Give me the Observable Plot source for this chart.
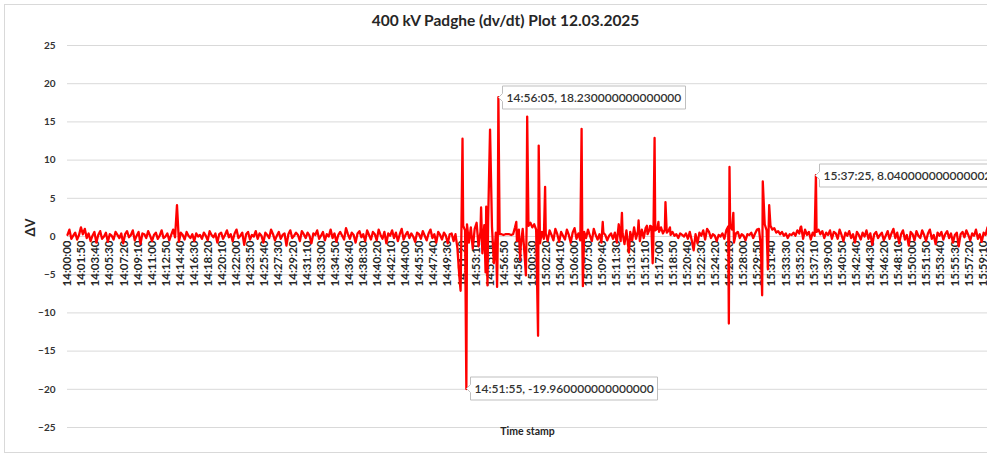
<!DOCTYPE html>
<html>
<head>
<meta charset="utf-8">
<script src="https://cdn.jsdelivr.net/npm/d3@7"></script>
<script src="https://cdn.jsdelivr.net/npm/@observablehq/plot@0.6"></script>
<style>
  html, body { margin: 0; padding: 0; background: #ffffff; }
  #chart { width: 987px; height: 455px; overflow: hidden; }
</style>
</head>
<body>
<div id="chart"></div>
<script>
// ---------- data ----------
const chartTitle = "400 kV Padghe (dv/dt) Plot 12.03.2025";
const yAxisLabel = "ΔV";
const xAxisLabel = "Time stamp";
const yTicks = [-25, -20, -15, -10, -5, 0, 5, 10, 15, 20, 25];
const xTickLabels = [
  "14:00:00","14:01:50","14:03:40","14:05:30","14:07:20","14:09:10","14:11:00","14:12:50","14:14:40","14:16:30",
  "14:18:20","14:20:10","14:22:00","14:23:50","14:25:40","14:27:30","14:29:20","14:31:10","14:33:00","14:34:50",
  "14:36:40","14:38:30","14:40:20","14:42:10","14:44:00","14:45:50","14:47:40","14:49:30","14:51:20","14:53:10",
  "14:55:00","14:56:50","14:58:40","15:00:30","15:02:20","15:04:10","15:06:00","15:07:50","15:09:40","15:11:30",
  "15:13:20","15:15:10","15:17:00","15:18:50","15:20:40","15:22:30","15:24:20","15:26:10","15:28:00","15:29:50",
  "15:31:40","15:33:30","15:35:20","15:37:10","15:39:00","15:40:50","15:42:40","15:44:30","15:46:20","15:48:10",
  "15:50:00","15:51:50","15:53:40","15:55:30","15:57:20","15:59:10"
];
const xDomainEnd = "15:59:45";

// background readings every 15 s starting at 14:00:00 (10 minutes per row)
const baseStart = "14:00:00";
const baseStepSeconds = 15;
const baseValues = [
  0.2, 0.9, -0.3, 0.1, 0.5, -0.4, 0.2, 1.2, 0.3, 1.0, -0.2, 0.4, -0.6, 0.1, 0.6, -0.8, 0.2, 0.7, -0.3, 0.0, 0.5, -0.7, 0.3, 0.1, -0.4, 0.6, 0.2, -0.2, 0.4, -0.9, 0.3, 0.7, -0.1, 0.2, 0.8, -0.5, 0.1, 0.6, -1.0, 0.4,
  0.3, -0.2, 0.7, 0.1, -0.6, 0.2, 0.5, -0.3, 0.1, 0.8, -0.2, 0.0, 0.4, -0.5, 0.2, 0.9, -0.1, 0.3, -0.7, 0.5, 0.2, -0.4, 0.6, 0.1, -0.2, 0.3, -0.6, 0.4, 0.0, 0.2, -0.3, 0.5, 0.1, -0.5, 0.7, 0.2, -0.1, 0.4, -0.8, 0.3,
  0.5, -0.3, 0.2, 0.8, -0.1, 0.3, -0.6, 0.4, 0.9, -0.2, 0.1, 0.5, -1.1, 0.3, 0.6, -0.4, 0.2, 0.0, 0.7, -0.3, 0.4, 0.1, -0.8, 0.5, 0.2, -0.2, 0.9, 0.3, -0.5, 0.1, 0.6, -0.3, 0.2, 0.4, -1.2, 0.3, 0.8, -0.2, 0.1, 0.5,
  0.2, -0.6, 0.7, 0.3, -0.2, 0.5, 0.1, -0.9, 0.4, 0.2, 0.8, -0.3, 0.1, 0.6, -0.5, 0.3, 0.0, 0.9, -0.2, 0.4, -0.7, 0.2, 0.6, 0.1, -0.4, 1.1, 0.3, -0.3, 0.5, 0.2, -0.8, 0.4, 0.7, -0.1, 0.3, -0.6, 0.8, 0.2, -0.4, 0.6,
  0.3, -0.5, 0.9, 0.2, -0.3, 0.6, -0.9, 0.4, 0.1, 0.8, -0.2, 0.5, -0.6, 0.3, 1.0, -0.4, 0.2, 0.6, -0.2, 0.4, 0.0, -0.7, 0.5, 0.3, -0.3, 0.7, 0.1, -0.5, 0.4, 0.9, -0.2, 0.3, -0.8, 0.6, 0.2, -0.4, 0.5, 0.1, -0.9, 0.3,
  0.4, -0.6, 0.3, -1.5, -5.2, -1.0, 1.4, 0.8, 1.6, -0.8, 1.2, -1.6, 1.0, 1.8, -1.3, 0.6, -2.2, 1.5, -1.0, 2.0, -1.8, 1.3, -3.5, 0.5, -0.8, 0.3, 0.3, 0.2, 0.3, 0.3, 0.3, 0.2, 0.3, 1.2, -0.6, 0.9, -1.2, 1.0, -2.5, 0.8,
  1.4, 1.8, 1.2, 1.6, 0.9, -1.0, -0.9, 0.6, -0.3, 0.4, -0.6, 0.8, 0.2, -0.5, 1.0, 0.3, -0.7, 0.6, 0.1, -0.4, 0.9, 0.2, -0.8, 0.5, 1.1, -0.3, 0.4, -0.5, 0.3, 0.6, -0.2, 0.9, 0.1, -0.6, 1.0, 0.2, -0.4, 0.3, -0.8, 0.5,
  0.2, -0.5, 0.1, 0.4, -0.3, 0.5, -0.8, 0.3, -0.6, 0.4, -1.0, 0.8, -1.4, 0.6, -0.5, 1.2, -0.3, 0.7, -0.6, 0.9, -0.2, 1.1, 0.3, 0.9, 1.3, -1.2, 0.8, 1.0, 0.6, 1.2, 0.4, 0.9, 0.5, 0.8, 0.2, 0.6, 0.1, 0.3, -0.2, 0.4,
  0.2, 0.0, 0.4, -0.3, 0.6, -0.5, -1.8, 0.3, -0.9, 0.5, 0.1, 0.8, -0.4, 1.0, 0.6, -0.2, 0.3, 0.1, -0.6, 0.2, 0.0, 0.4, -0.3, 0.8, 1.3, 1.5, 0.9, -0.8, 0.4, 0.6, -0.2, 0.3, 0.1, -0.5, 0.3, 0.2, 0.5, -0.2, 0.4, 0.9,
  1.0, -1.2, 0.9, 1.6, 0.8, 0.5, 1.4, 0.9, 1.1, 0.5, 0.7, 0.3, 0.6, 0.1, 0.4, -0.2, 0.3, 0.2, 0.5, 0.1, 0.8, 0.4, 1.3, -0.3, 0.9, 0.2, 0.6, -0.4, 0.5, 0.1, 0.6, 0.9, 0.3, 0.7, -0.2, 0.5, 0.2, 0.8, -0.3, 0.6,
  0.4, -0.3, 0.9, 0.2, -0.6, 0.5, 0.1, 0.7, -0.2, 0.3, -0.8, 0.6, 0.2, -0.4, 0.5, 0.0, 0.8, -0.3, 0.4, -1.1, 0.3, 0.6, -0.2, 0.2, 0.5, -0.5, 0.1, 0.7, -0.3, 0.4, 1.0, -0.2, 0.5, -0.9, 0.3, 0.8, -0.4, 0.2, -1.2, 0.6,
  0.3, -0.5, 0.7, 0.1, -0.2, 0.8, 0.2, -0.6, 0.4, 0.9, -0.3, 0.2, -1.0, 0.5, 0.1, 0.6, -0.4, 0.3, 0.7, -0.2, 0.4, -0.8, 0.2, 0.5, -1.3, 0.3, 0.6, -0.1, 0.8, 0.2, -0.5, 0.4, 0.1, 0.9, -0.3, 0.3, -0.7, 0.5, 0.2, 1.2
];

// sharp excursions (5 s resolution)
const eventTimes = [
  "14:14:15","14:51:10","14:51:25","14:51:55","14:53:50","14:54:25","14:54:30","14:54:40","14:55:00","14:55:55",
  "14:56:05","14:58:25","14:58:55","14:59:40","14:59:50","15:01:15","15:01:20","15:02:10","15:06:55","15:07:05",
  "15:09:40","15:11:45","15:12:10","15:13:05","15:14:20","15:15:25","15:15:50","15:16:10","15:16:25","15:16:55",
  "15:17:50","15:18:25","15:26:05","15:26:10","15:26:40","15:30:25","15:30:30","15:31:10","15:31:20","15:35:25",
  "15:37:25"
];
const eventValues = [
  4.1, -7.1, 12.8, -19.96, 3.8, -4.7, 3.9, -6.4, 14.0, -6.6,
  18.23, 1.9, -3.1, -5.1, 15.7, -13.0, 11.9, 6.5, 14.1, -6.5,
  1.9, 1.6, 3.1, -2.1, 2.1, 1.4, 1.4, -3.5, 12.9, 1.9,
  4.5, 1.2, -11.4, 9.1, 3.1, -7.7, 7.2, -4.3, 4.1, 1.2,
  8.04
];

// data callouts
const calloutTimes = ["14:56:05", "14:51:55", "15:37:25"];
const calloutValues = [18.23, -19.96, 8.04];
const calloutTexts = ["14:56:05, 18.230000000000000", "14:51:55, -19.960000000000000", "15:37:25, 8.040000000000002"];

// ---------- build ----------
function toSeconds(hms) { const [h, m, s] = hms.split(":").map(Number); return h * 3600 + m * 60 + s; }
function toDate(hms) { return new Date(Date.UTC(2025, 2, 12, 0, 0, 0) + toSeconds(hms) * 1000); }
function secToDate(sec) { return new Date(Date.UTC(2025, 2, 12, 0, 0, 0) + sec * 1000); }

const readings = new Map();
const startSec = toSeconds(baseStart);
baseValues.forEach((v, i) => readings.set(startSec + i * baseStepSeconds, v));
eventTimes.forEach((t, i) => readings.set(toSeconds(t), eventValues[i]));
const series = Array.from(readings, ([sec, v]) => ({t: secToDate(sec), v})).sort((a, b) => a.t - b.t);

const callouts = calloutTimes.map((t, i) => ({t: toDate(t), v: calloutValues[i], label: calloutTexts[i]}));
const xTicks = xTickLabels.map(s => ({t: toDate(s), label: s}));

const FONT = "Lato, 'Open Sans', 'Liberation Sans', sans-serif";
const TEXT = "#333333";

const calloutMark = (typeof Plot.tip === "function")
  ? Plot.tip(callouts, {
      x: "t", y: "v", title: "label", anchor: "left", pointerSize: 8, textPadding: 4,
      fontSize: 12, fontFamily: FONT, fontWeight: 600, fill: "white", stroke: "#bfbfbf",
      strokeWidth: 1, pathFilter: "none"
    })
  : Plot.text(callouts, {
      x: "t", y: "v", text: "label", textAnchor: "start", dx: 11, fontSize: 12, fill: TEXT
    });

const chart = Plot.plot({
  width: 987,
  height: 455,
  marginTop: 45,
  marginBottom: 28,
  marginLeft: 67,
  marginRight: 0,
  style: {fontFamily: FONT, fontSize: "10px", fontWeight: "bold", color: TEXT, background: "white", overflow: "hidden"},
  x: {type: "utc", domain: [toDate("14:00:00"), toDate(xDomainEnd)], axis: null},
  y: {domain: [-25, 25], ticks: yTicks, tickSize: 0, tickPadding: 12, label: null},
  marks: [
    Plot.frame({stroke: "#d9d9d9", insetLeft: -63, insetTop: -41, insetBottom: -25, insetRight: -12}),
    Plot.ruleY(yTicks, {stroke: "#d9d9d9", strokeWidth: 1}),
    Plot.text(xTicks, {
      x: "t", y: () => 0, text: "label", rotate: -90, textAnchor: "end", lineAnchor: "middle",
      dy: 4, fontSize: 11.5, fontWeight: "bold", fill: "#262626"
    }),
    Plot.line(series, {x: "t", y: "v", stroke: "#ff0000", strokeWidth: 2.3}),
    calloutMark,
    Plot.text([yAxisLabel], {frameAnchor: "left", dx: -37, rotate: -90, fontSize: 13, fontWeight: "bold", fill: "#262626"}),
    Plot.text([xAxisLabel], {frameAnchor: "bottom", lineAnchor: "middle", dy: 4, fontSize: 10.5, fontWeight: "bold", fill: "#262626"}),
    Plot.text([chartTitle], {frameAnchor: "top", lineAnchor: "middle", dy: -24, dx: -22, fontSize: 15.5, fontWeight: "bold", fill: "#262626"})
  ]
});
document.getElementById("chart").appendChild(chart);
</script>
</body>
</html>
